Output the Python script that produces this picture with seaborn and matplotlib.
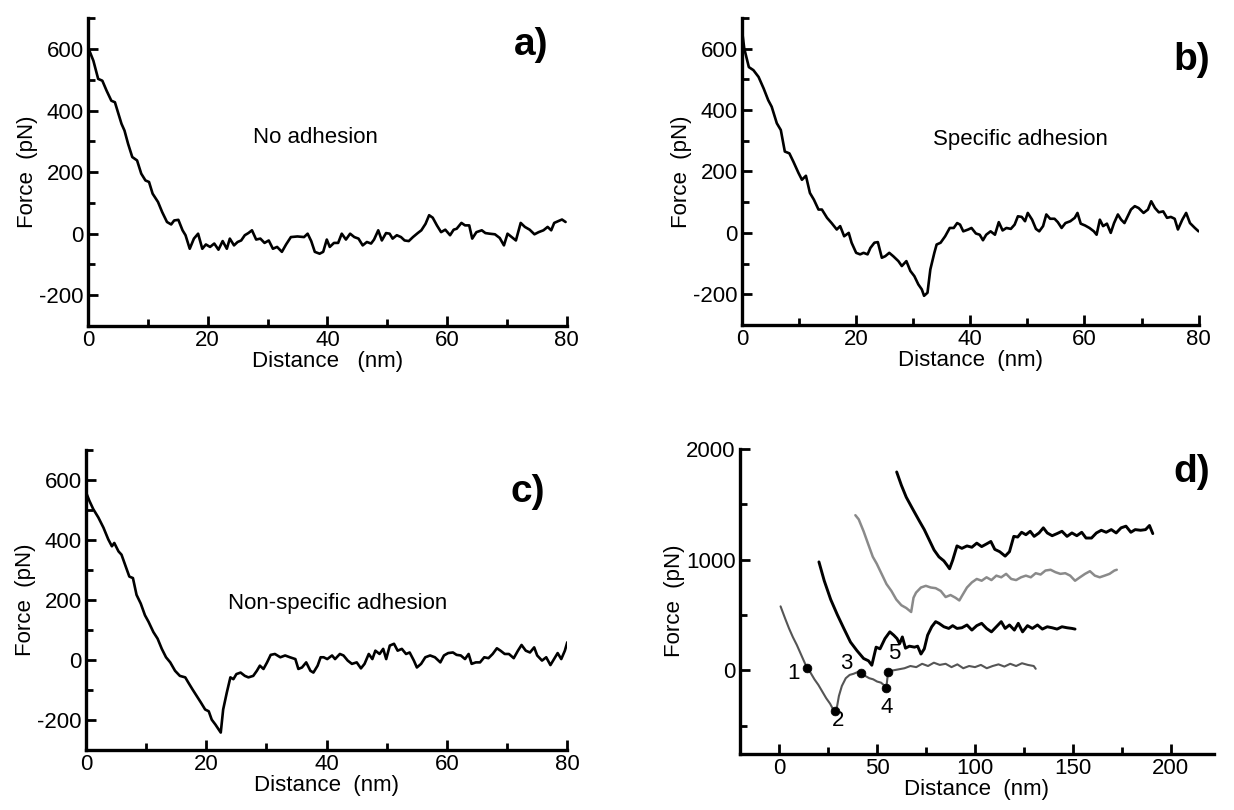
import matplotlib
matplotlib.use("Agg")
import matplotlib.pyplot as plt
import seaborn as sns
from matplotlib.ticker import MultipleLocator

# ---- panel a: no adhesion ----
a_x = [0.0, 0.9, 1.7, 2.4, 3.1, 3.9, 4.5, 5.0, 5.6, 6.1, 6.7, 7.4, 8.2, 8.9, 9.6, 10.2,
       10.8, 11.7, 12.4, 13.2, 13.9, 14.4, 15.1, 15.8, 16.3, 17.0, 17.7, 18.4, 19.1, 19.7,
       20.4, 21.1, 21.8, 22.5, 23.2, 23.7, 24.4, 25.0, 25.6, 26.2, 26.8, 27.4, 28.1, 28.8,
       29.5, 30.2, 30.9, 31.6, 32.4, 33.1, 33.9, 35.0, 36.1, 36.7, 37.3, 37.9, 38.7,
       39.3, 39.9, 40.4, 41.1, 41.8, 42.4, 43.1, 43.8, 44.5, 45.2, 45.9, 46.6, 47.3, 47.8,
       48.5, 49.1, 49.8, 50.4, 50.9, 51.6, 52.3, 52.9, 53.6, 54.3, 55.1, 55.7, 56.4, 57.0,
       57.6, 58.3, 59.0, 59.7, 60.5, 61.1, 61.6, 62.4, 63.0, 63.7, 64.2, 64.9, 65.8, 66.4,
       67.1, 68.0, 68.8, 69.5, 70.1, 70.8, 71.5, 72.3, 73.0, 73.8, 74.6, 75.3, 76.1, 76.8,
       77.4, 77.9, 78.6, 79.2, 79.8]
a_y = [606, 562, 503, 497, 465, 432, 427, 395, 357, 335, 292, 249, 238, 195, 173, 168,
       130, 103, 70, 38, 30, 43, 45, 11, -5, -49, -16, 0, -49, -35,
       -43, -32, -52, -24, -49, -16, -38, -27, -22, -5, 2, 11, -19, -16,
       -30, -22, -49, -43, -59, -35, -11, -9, -11, 0, -24, -59, -65,
       -59, -19, -43, -30, -30, 0, -19, 0, -11, -16, -38, -27, -32, -19,
       11, -22, 2, 0, -16, -5, -11, -22, -24, -11, 2, 11, 32, 60,
       52, 27, 5, 13, -5, 13, 16, 35, 27, 27, -16, 5, 11, 2,
       0, -2, -14, -38, 0, -11, -22, 35, 22, 13, -2, 5, 11, 22,
       11, 35, 41, 46, 38]

# ---- panel b: specific adhesion ----
b_x = [0.0, 0.4, 1.2, 2.0, 2.9, 3.8, 4.6, 5.2, 6.1, 6.8, 7.5, 8.3, 9.0, 9.9, 10.5, 11.2,
       11.9, 12.6, 13.4, 14.0, 14.9, 15.7, 16.6, 17.2, 17.9, 18.7, 19.2, 20.0, 20.7, 21.3,
       22.0, 22.5, 23.2, 23.8, 24.5, 25.1, 25.8, 26.5, 27.4, 28.0, 28.8, 29.5, 30.2, 30.9,
       31.5, 31.9, 32.5, 33.0, 33.7, 34.1, 34.8, 35.6, 36.4, 37.1, 37.7,
       38.2, 38.77, 39.64, 40.21, 40.98, 41.65, 42.22, 42.79, 43.56, 44.32, 44.99, 45.66,
       46.33, 47.10, 47.77, 48.34, 49.01, 49.59, 50.07, 50.83, 51.50, 52.08, 52.75, 53.32,
       53.99, 54.76, 55.33, 56.00, 56.67, 57.53, 58.30, 58.78, 59.35, 60.12, 60.88, 61.65,
       62.13, 62.70, 63.27, 63.94, 64.61, 65.19, 65.86, 66.43, 67.01, 67.58, 68.15, 68.82,
       69.49, 70.36, 71.12, 71.70, 72.36, 73.03, 73.80, 74.47, 75.14, 75.81, 76.38, 77.15,
       77.82, 78.49, 79.35, 80.0]
b_y = [660, 600, 540, 530, 508, 470, 432, 411, 357, 335, 265, 259, 232, 195, 173, 186,
       130, 108, 76, 76, 49, 32, 11, 22, -11, 0, -32, -65, -70, -65,
       -70, -49, -32, -30, -81, -76, -65, -76, -92, -108, -92, -124, -141, -168,
       -184, -205, -195, -119, -65, -38, -32, -11, 16, 16, 32,
       27, 5, 11, 16, -2, -6, -24, -6, 5, -6, 35, 8,
       16, 13, 27, 54, 52, 38, 65, 43, 13, 5, 22, 60,
       46, 46, 35, 16, 32, 38, 49, 65, 30, 24, 16, 5,
       -6, 43, 22, 30, 0, 32, 60, 43, 32, 54, 76, 87,
       81, 65, 76, 103, 81, 67, 70, 49, 52, 46, 11, 43,
       65, 32, 16, 5]

# ---- panel c: non-specific adhesion ----
c_x = [0.0, 0.55, 1.2, 2.05, 2.9, 3.7, 4.3, 4.7, 5.4, 5.9, 6.7, 7.2, 7.8, 8.4, 9.1, 9.8,
       10.4, 11.2, 11.9, 12.6, 13.3, 14.0, 14.8, 15.6, 16.5, 17.0, 17.7, 18.4, 19.1, 19.8,
       20.4, 20.9, 21.5, 22.0, 22.4, 22.8, 23.4, 24.0, 24.5, 25.0, 25.7, 26.4, 27.0, 27.8,
       28.4, 28.9, 29.5, 30.1, 30.7, 31.4, 32.3, 33.1, 33.9, 34.8, 35.3, 35.9, 36.6, 37.3,
       37.8, 38.5, 39.0, 39.5, 40.1, 40.9, 41.4, 42.2, 42.8, 43.5, 44.2, 45.0, 45.7, 46.3,
       47.0, 47.6, 48.1, 48.8, 49.4, 49.9, 50.5, 51.2, 51.8, 52.5, 53.2, 53.8, 54.5, 55.0,
       55.7, 56.4, 57.2, 58.0, 58.9, 59.5, 60.2, 61.0, 61.6, 62.3, 63.0, 63.6, 64.1, 64.8,
       65.5, 66.2, 66.9, 67.6, 68.3, 68.9, 69.6, 70.3, 71.1, 71.8, 72.4, 73.1, 73.8, 74.5,
       75.0, 75.8, 76.5, 77.2, 77.8, 78.4, 79.0, 79.6, 80.0]
c_y = [559, 531, 503, 475, 441, 402, 379, 390, 362, 351, 306, 278, 273, 217, 188, 149,
       127, 93, 71, 37, 9, -8, -36, -53, -58, -75, -98, -120, -142, -165,
       -171, -199, -215, -230, -242, -165, -109, -58, -64, -47, -42, -53, -58, -53,
       -36, -19, -30, -8, 17, 20, 9, 15, 9, 3, -30, -25, -8, -36,
       -42, -19, 9, 9, 3, 15, 3, 20, 15, -2, -13, -8, -28, -13,
       20, 3, 31, 20, 37, 3, 48, 54, 31, 37, 20, 25, -2, -25,
       -13, 9, 15, 9, -8, 15, 23, 25, 17, 15, 3, 20, -13, -8,
       -8, 9, 6, 20, 39, 31, 20, 20, 6, 31, 50, 31, 25, 42,
       15, -2, 9, -17, 3, 23, 3, 31, 59]

# ---- panel d: consecutive retraction curves ----
d1_x = [0.7, 3, 5, 7, 9, 11, 13, 14.2, 16, 18, 20, 22, 24, 26, 27.5, 28.5, 29.5, 30.5, 32,
        34, 36, 38, 40, 42, 44, 46, 48, 50, 52, 54, 54.7, 55.6, 58, 61, 64, 67, 70, 73, 76,
        79, 82, 85, 88, 91, 94, 97, 100, 103, 106, 109, 112, 115, 118, 121, 124, 127, 130, 131]
d1_y = [578, 470, 380, 300, 230, 150, 70, 21, -20, -80, -130, -190, -250, -300, -350, -367,
        -330, -230, -140, -70, -40, -30, -15, -24, -50, -70, -80, -100, -110, -140, -160, -15,
        0, 10, 20, 40, 30, 60, 40, 70, 50, 60, 30, 55, 20, 40, 30, 50, 20, 40, 55, 35, 60, 40,
        65, 50, 40, 15]

d2_x = [20.3, 23.0, 26.3, 29.7, 33.0, 36.4, 39.7, 43.1, 45.6, 47.3, 49.5, 51.5, 54.0, 56.5,
        58.5, 60.2, 61.5, 62.9, 64.5, 66.5, 69.1, 70.7, 72.4, 74.1, 75.8, 77.9, 79.9, 81.6,
        84.1, 86.6, 88.6, 90.8, 93.3, 95.9, 98.4, 100.9, 103.4, 105.9, 108.4, 110.9, 113.4,
        115.4, 117.6, 120.1, 122.1, 124.3, 126.8, 129.3, 131.9, 134.4, 136.9, 139.4, 141.9,
        144.4, 147.0, 149.5, 151.1]
d2_y = [979, 809, 640, 502, 379, 256, 179, 108, 87, 47, 210, 195, 287, 348,
        318, 287, 241, 302, 201, 219, 210, 219, 148, 195, 318, 394, 440, 425,
        394, 379, 404, 379, 385, 410, 364, 404, 425, 379, 348, 394, 440,
        379, 410, 364, 425, 348, 404, 379, 410, 373, 394, 385, 373,
        394, 385, 379, 373]

d3_x = [38.9, 40.6, 43.1, 45.6, 47.8, 49.8, 52.3, 54.8, 57.3, 59.8, 62.4, 64.9, 67.4, 68.6,
        69.9, 72.4, 74.9, 77.4, 79.9, 82.5, 85.0, 87.5, 90.0, 92.0, 93.3, 95.9, 98.4, 100.9,
        103.4, 105.9, 108.4, 110.9, 113.4, 115.9, 118.5, 121.0, 123.5, 126.0, 128.5, 131.0,
        133.5, 136.0, 138.6, 141.1, 143.6, 146.1, 148.6, 151.1, 153.6, 156.2, 158.7, 161.2,
        163.7, 166.2, 168.7, 171.2, 172.4]
d3_y = [1400, 1363, 1255, 1132, 1025, 963, 871, 779, 717, 640, 588, 563, 527, 656,
        702, 748, 763, 748, 742, 717, 662, 680, 656, 631, 671, 748, 794, 825,
        809, 840, 815, 855, 840, 871, 825, 815, 840, 855, 840, 877,
        865, 901, 908, 886, 871, 877, 855, 809, 840, 871, 895, 855,
        840, 855, 871, 901, 908]

d4_x = [60.0, 62.4, 64.9, 68.2, 71.6, 74.1, 76.6, 79.1, 81.6, 84.1, 85.8, 87.0, 88.6, 90.8,
        93.3, 95.9, 98.4, 100.9, 103.4, 105.9, 108.1, 110.1, 112.6, 115.4, 117.6, 119.8,
        121.8, 123.8, 126.0, 128.2, 130.2, 132.7, 134.9, 136.9, 139.4, 141.9, 144.4, 147.0,
        149.5, 152.0, 154.5, 156.7, 159.5, 162.0, 164.5, 167.0, 169.6, 172.1, 174.6, 177.1,
        179.6, 181.8, 184.6, 187.1, 189.1, 190.8]
d4_y = [1790, 1670, 1562, 1455, 1347, 1270, 1178, 1086, 1024, 988, 948, 917, 994, 1123,
        1101, 1123, 1111, 1148, 1117, 1141, 1163, 1092, 1071, 1031, 1071, 1209,
        1203, 1246, 1224, 1255, 1209, 1240, 1286, 1240, 1215, 1234, 1255, 1209,
        1240, 1215, 1246, 1194, 1194, 1240, 1264, 1246, 1270, 1240, 1286, 1301,
        1246, 1270, 1264, 1270, 1307, 1234]

# marked events on the first curve in d
event_x = [14.2, 28.5, 42.0, 54.7, 55.6]
event_y = [21, -367, -24, -160, -15]
event_labels = ["1", "2", "3", "4", "5"]
event_label_x = [7.3, 29.9, 34.2, 54.7, 58.9]
event_label_y = [-30, -452, 60, -331, 150]

sns.set_theme(style="ticks")
plt.rcParams["font.family"] = ["Liberation Sans", "DejaVu Sans"]
plt.rcParams["axes.unicode_minus"] = False
plt.rcParams["text.color"] = "black"
plt.rcParams["axes.labelcolor"] = "black"

FS = 16
TAG = 28
LW = 1.9

fig = plt.figure(figsize=(12.34, 8.10), dpi=100)
ax_a = fig.add_axes([0.0713, 0.5975, 0.388, 0.380])
ax_b = fig.add_axes([0.6013, 0.5988, 0.370, 0.379])
ax_c = fig.add_axes([0.0697, 0.0741, 0.390, 0.3704])
ax_d = fig.add_axes([0.5997, 0.0696, 0.384, 0.3765])


def style(ax, xlabel, xmaj, xmin, ymaj, ymin):
    for s in ["top", "right"]:
        ax.spines[s].set_visible(False)
    for s in ["left", "bottom"]:
        ax.spines[s].set_linewidth(2.4)
        ax.spines[s].set_color("black")
    ax.xaxis.set_major_locator(MultipleLocator(xmaj))
    ax.xaxis.set_minor_locator(MultipleLocator(xmin))
    ax.yaxis.set_major_locator(MultipleLocator(ymaj))
    ax.yaxis.set_minor_locator(MultipleLocator(ymin))
    ax.tick_params(which="both", direction="in", width=2.0, colors="black",
                   labelcolor="black", labelsize=FS, pad=3)
    ax.tick_params(which="major", length=7)
    ax.tick_params(which="minor", length=5)
    ax.set_xlabel(xlabel, fontsize=FS, labelpad=0, color="black")
    ax.set_ylabel("Force  (pN)", fontsize=FS, labelpad=1, color="black")


def trace(ax, x, y, color="black", lw=LW):
    sns.lineplot(x=x, y=y, ax=ax, color=color, linewidth=lw,
                 estimator=None, sort=False)


# a
trace(ax_a, a_x, a_y)
ax_a.set_xlim(0, 80)
ax_a.set_ylim(-300, 700)
style(ax_a, "Distance   (nm)", 20, 10, 200, 100)
ax_a.text(38, 313, "No adhesion", fontsize=FS, ha="center", va="center")
ax_a.text(74, 612, "a)", fontsize=TAG, fontweight="bold", ha="center", va="center")

# b
trace(ax_b, b_x, b_y)
ax_b.set_xlim(0, 80)
ax_b.set_ylim(-300, 700)
style(ax_b, "Distance  (nm)", 20, 10, 200, 100)
ax_b.text(48.7, 303, "Specific adhesion", fontsize=FS, ha="center", va="center")
ax_b.text(78.8, 562, "b)", fontsize=TAG, fontweight="bold", ha="center", va="center")

# c
trace(ax_c, c_x, c_y)
ax_c.set_xlim(0, 80)
ax_c.set_ylim(-300, 700)
style(ax_c, "Distance  (nm)", 20, 10, 200, 100)
ax_c.text(41.8, 188, "Non-specific adhesion", fontsize=FS, ha="center", va="center")
ax_c.text(73.5, 560, "c)", fontsize=TAG, fontweight="bold", ha="center", va="center")

# d
trace(ax_d, d1_x, d1_y, color="#555555", lw=1.5)
trace(ax_d, d2_x, d2_y, color="black", lw=2.1)
trace(ax_d, d3_x, d3_y, color="#8a8a8a", lw=1.8)
trace(ax_d, d4_x, d4_y, color="black", lw=2.1)
sns.scatterplot(x=event_x, y=event_y, ax=ax_d, color="black", s=40,
                edgecolor="black", zorder=5)
for lx, ly, t in zip(event_label_x, event_label_y, event_labels):
    ax_d.text(lx, ly, t, fontsize=FS, ha="center", va="center")
ax_d.set_xlim(-20, 222)
ax_d.set_ylim(-750, 2000)
style(ax_d, "Distance  (nm)", 50, 25, 1000, 500)
ax_d.text(210.5, 1790, "d)", fontsize=TAG, fontweight="bold", ha="center", va="center")

fig.savefig("out.png", dpi=100, facecolor="white")
